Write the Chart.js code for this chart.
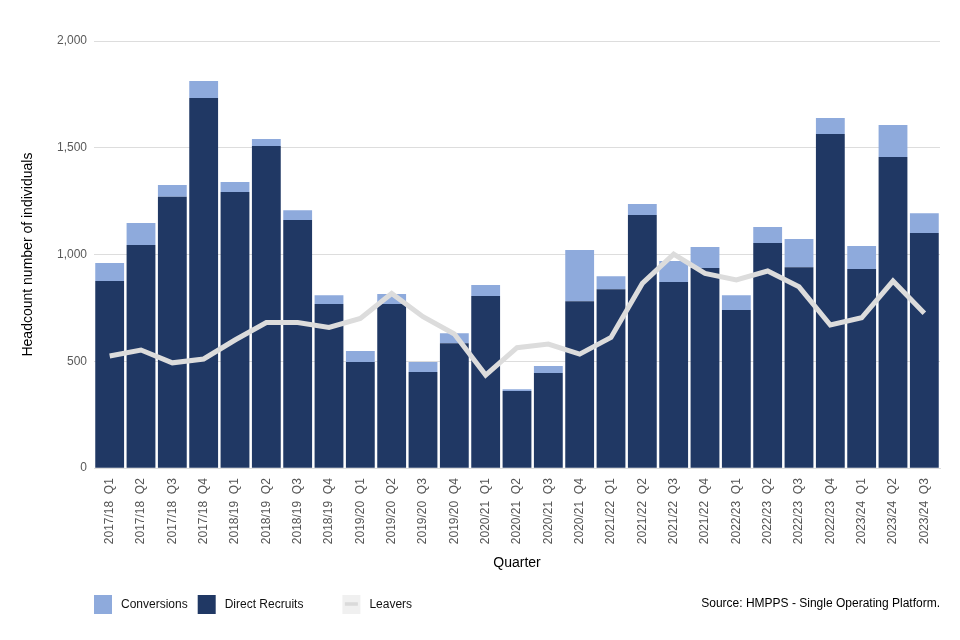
<!DOCTYPE html>
<html><head><meta charset="utf-8">
<script src="https://cdn.jsdelivr.net/npm/chart.js@4"></script>
<style>html,body{margin:0;padding:0;background:#fff}#wrap{width:960px;height:640px}</style>
</head><body><div id="wrap"><canvas id="c" width="960" height="640"></canvas></div>
<script>
const quarters = ["2017/18 Q1","2017/18 Q2","2017/18 Q3","2017/18 Q4","2018/19 Q1","2018/19 Q2","2018/19 Q3","2018/19 Q4","2019/20 Q1","2019/20 Q2","2019/20 Q3","2019/20 Q4","2020/21 Q1","2020/21 Q2","2020/21 Q3","2020/21 Q4","2021/22 Q1","2021/22 Q2","2021/22 Q3","2021/22 Q4","2022/23 Q1","2022/23 Q2","2022/23 Q3","2022/23 Q4","2023/24 Q1","2023/24 Q2","2023/24 Q3"];
const directRecruits = [876,1045,1271,1733,1293,1508,1162,768,497,768,450,585,806,361,445,782,838,1185,871,937,740,1054,941,1564,932,1457,1101];
const conversions = [84,103,55,80,47,33,46,42,51,47,47,47,51,9,33,239,61,52,99,98,70,75,132,75,108,150,93];
const leavers = [525,553,493,511,600,682,682,659,701,818,709,628,436,564,581,534,612,865,1002,912,881,923,849,670,704,876,725];
const yTicks = [0,500,1000,1500,2000];
const legendItems = ["Conversions","Direct Recruits","Leavers"];

const FONT = "'Liberation Sans', Arial, sans-serif";
const C_DIRECT = '#203864', C_CONV = '#8eaadc', C_LEAV = '#dcdcdc';

const extrasPlugin = {
  id:'extras',
  afterDraw(chart){
    const ctx = chart.ctx; ctx.save();
    ctx.font = "12px " + FONT; ctx.fillStyle = '#000'; ctx.textAlign='right'; ctx.textBaseline='middle';
    ctx.fillText('Source: HMPPS - Single Operating Platform.', 940, 604);
    const yc = 604, bs = 18;
    let x = 94;
    const styles = {
      'Conversions': {fill: C_CONV},
      'Direct Recruits': {fill: C_DIRECT},
      'Leavers': {fill: '#f0f0f0', line: '#dadada'}
    };
    ctx.textAlign = 'left';
    legendItems.forEach((name, i) => {
      const st = styles[name];
      ctx.fillStyle = st.fill; ctx.fillRect(x, yc - 9, bs, 19);
      if (st.line) { ctx.strokeStyle = st.line; ctx.lineWidth = 3.5; ctx.beginPath(); ctx.moveTo(x+2.5, yc); ctx.lineTo(x+bs-2.5, yc); ctx.stroke(); }
      ctx.fillStyle = '#111';
      ctx.fillText(name, x + bs + 9, yc + 1);
      const w = ctx.measureText(name).width;
      x = x + bs + 9 + w + (i === 1 ? 39 : 10);
    });
    ctx.restore();
  }
};

new Chart(document.getElementById('c'), {
  type:'bar',
  data:{
    labels: quarters,
    datasets:[
      {label:'Direct Recruits', data: directRecruits, backgroundColor:C_DIRECT, stack:'s', order:2, barPercentage:0.92, categoryPercentage:1},
      {label:'Conversions', data: conversions, backgroundColor:C_CONV, stack:'s', order:2, barPercentage:0.92, categoryPercentage:1},
      {type:'line', label:'Leavers', data: leavers, borderColor:C_LEAV, borderWidth:5, pointRadius:0, tension:0, order:1, fill:false}
    ]
  },
  options:{
    responsive:false, animation:false, devicePixelRatio:1,
    layout:{padding:{top:41,right:20,bottom:68,left:0}},
    plugins:{ tooltip:{enabled:false}, legend:{display:false} },
    scales:{
      x:{stacked:true, grid:{display:false}, border:{display:true, color:'#dddddd'},
        ticks:{minRotation:90, maxRotation:90, autoSkip:false, color:'#555', font:{size:12, family:FONT}, padding:2,
          callback(v){ return this.getLabelForValue(v).replace(' ', '  '); }},
        title:{display:true, text:'Quarter', color:'#000', font:{size:14, family:FONT}, padding:{top:9,bottom:0}}},
      y:{stacked:true, min:0, max:2000, afterFit(s){ s.width = 94; },
        afterBuildTicks(s){ s.ticks = yTicks.map(v=>({value:v})); },
        grid:{color:'#dddddd', drawTicks:false}, border:{display:false},
        ticks:{color:'#595959', font:{size:12, family:FONT}, padding:7, callback:v=>v.toLocaleString('en-GB')},
        title:{display:true, text:'Headcount number of individuals', color:'#000', font:{size:14, family:FONT}, padding:{top:20,bottom:0}}}
    }
  },
  plugins:[extrasPlugin]
});
</script></body></html>
